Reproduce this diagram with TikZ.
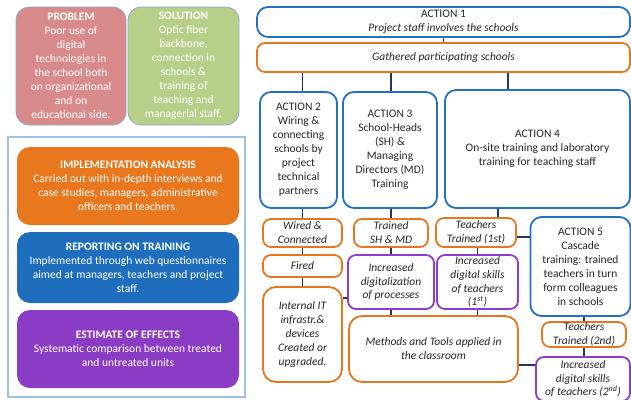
\documentclass[tikz,border=0pt]{standalone}
\usepackage{fontspec}
\setmainfont{Carlito}
\usetikzlibrary{positioning}

\definecolor{actblue}{HTML}{2271C4}
\definecolor{resorange}{HTML}{E8761E}
\definecolor{effpurple}{HTML}{8E3BD0}
\definecolor{linknavy}{HTML}{1F3864}
\definecolor{probred}{HTML}{D98B8B}
\definecolor{solgreen}{HTML}{B7CF89}
\definecolor{frameblue}{HTML}{9DC3E6}
\definecolor{implorange}{HTML}{E8771E}
\definecolor{repblue}{HTML}{1F6EBD}
\definecolor{estpurple}{HTML}{8B3CC4}
\definecolor{edgegray}{HTML}{8FA8C8}

\tikzset{
  box/.style={rounded corners=8pt, line width=1.8pt, fill=white, align=center, inner sep=0pt, text=black!85},
  actbox/.style={box, draw=actblue, rounded corners=11pt, font=\fontsize{11.5}{14}\selectfont},
  resbox/.style={box, draw=resorange, font=\itshape\fontsize{11.5}{14}\selectfont},
  effbox/.style={box, draw=effpurple, font=\itshape\fontsize{11.5}{13.7}\selectfont},
  leftbox/.style={rounded corners=13pt, draw=edgegray, line width=0.8pt, text=white, align=center, inner sep=0pt, font=\fontsize{11.5}{14}\selectfont},
  link/.style={draw=linknavy, line width=1.3pt},
}

\begin{document}
\begin{tikzpicture}[x=1pt, y=-1pt]
    \useasboundingbox (0,0) rectangle (631,399);
    \clip (0,0) rectangle (631,399);
    % left column
    \node[leftbox, fill=probred, minimum width=110pt, minimum height=118pt] (prob) at (71,66) {\textbf{PROBLEM}\\Poor use of\\digital\\technologies in\\the school both\\on organizational\\and on\\educational side.};
    \node[leftbox, fill=solgreen, minimum width=111pt, minimum height=118pt] (sol) at (183.5,66) {\textbf{SOLUTION}\\Optic fiber\\backbone,\\connection in\\schools \&\\training of\\teaching and\\managerial staff.};
    \draw[frameblue, line width=1.2pt] (8,137) rectangle (245,397);
    \node[leftbox, draw=none, fill=implorange, minimum width=222pt, minimum height=78pt] (impl) at (128,186) {\textbf{IMPLEMENTATION ANALYSIS}\\Carried out with in-depth interviews and\\case studies, managers, administrative\\officers and teachers.};
    \node[leftbox, draw=none, fill=repblue, minimum width=222pt, minimum height=71pt] (rep) at (128,267.5) {\textbf{REPORTING ON TRAINING}\\Implemented through web questionnaires\\aimed at managers, teachers and project\\staff.};
    \node[leftbox, draw=none, fill=estpurple, minimum width=222pt, minimum height=78pt] (est) at (128,349) {\textbf{ESTIMATE OF EFFECTS}\\Systematic comparison between treated\\and untreated units};
    % actions
    \node[actbox, minimum width=373pt, minimum height=30pt] (act1) at (443.5,22) {ACTION 1\\\textit{Project staff involves the schools}};
    \node[resbox, minimum width=373pt, minimum height=29pt] (gath) at (443.5,57.5) {Gathered participating schools};
    \node[actbox, minimum width=77pt, minimum height=116pt] (act2) at (298.5,150) {ACTION 2\\Wiring \&\\connecting\\schools by\\project\\technical\\partners};
    \node[actbox, minimum width=94pt, minimum height=116pt] (act3) at (390,150) {ACTION 3\\School-Heads\\(SH) \&\\Managing\\Directors (MD)\\Training};
    \node[actbox, minimum width=185pt, minimum height=118pt] (act4) at (537.5,149) {ACTION 4\\On-site training and laboratory\\training for teaching staff};
    \node[actbox, minimum width=100pt, minimum height=99pt] (act5) at (580.5,266.5) {ACTION 5\\Cascade\\training: trained\\teachers in turn\\form colleagues\\in schools};
    % results
    \node[resbox, minimum width=79pt, minimum height=28pt] (wired) at (302.5,233) {Wired \&\\Connected};
    \node[resbox, minimum width=74pt, minimum height=28pt] (trsh) at (391,233) {Trained\\SH \& MD};
    \node[resbox, minimum width=80pt, minimum height=29pt] (tr1) at (476,232.5) {Teachers\\Trained (1st)};
    \node[resbox, minimum width=79pt, minimum height=22pt] (fired) at (302.5,266) {Fired};
    \node[resbox, rounded corners=13pt, minimum width=79pt, minimum height=95pt] (inter) at (302.5,334.5) {Internal IT\\infrastr.\&\\devices\\Created or\\upgraded.};
    \node[resbox, rounded corners=13pt, minimum width=169pt, minimum height=66pt] (meth) at (433.5,349) {Methods and Tools applied in\\the classroom};
    \node[resbox, minimum width=84pt, minimum height=25pt] (tr2) at (584,334.5) {Teachers\\Trained (2nd)};
    % effects
    \node[effbox, minimum width=86pt, minimum height=54pt] (digit) at (391,282) {Increased\\digitalization\\of processes};
    \node[effbox, minimum width=81pt, minimum height=54pt] (skill1) at (477.5,282) {Increased\\digital skills\\of teachers\\(1\textsuperscript{st})};
    \node[effbox, minimum width=94pt, minimum height=44pt] (skill2) at (583,379) {Increased\\digital skills\\of teachers (2\textsuperscript{nd})};
    % connectors
    \coordinate (c2) at (508,0);
    \coordinate (c3) at (498,0);
    \coordinate (c5) at (0,298);
    \coordinate (c6) at (0,365);
    \coordinate (c7) at (0,237);
    \draw[link] (act1) -- (gath);
    \draw[link] (gath.south -| wired) -- (act2.north -| wired);
    \draw[link] (act2.south -| wired) -- (wired.north);
    \draw[link] (wired) -- (fired);
    \draw[link] (fired) -- (inter);
    \draw[link] (gath.south -| trsh) -- (act3.north -| trsh);
    \draw[link] (act3.south -| trsh) -- (trsh.north);
    \draw[link] (trsh) -- (digit);
    \draw[link] (digit.south) -- (digit.south |- meth.north);
    \draw[link] (gath.south -| c2) -- (act4.north -| c2);
    \draw[link] (act4.south -| c3) -- (tr1.north -| c3);
    \draw[link] (tr1.east |- c7) -- (act5.west |- c7);
    \draw[link] (skill1.north |- tr1.south) -- (skill1.north);
    \draw[link] (skill1.south) -- (skill1.south |- meth.north);
    \draw[link] (act5.south -| tr2) -- (tr2.north);
    \draw[link] (tr2.south) -- (tr2.south |- skill2.north);
    \draw[link] (inter.east |- c5) -- (digit.west |- c5);
    \draw[link] (meth.east |- c6) -- (skill2.west |- c6);
\end{tikzpicture}
\end{document}
